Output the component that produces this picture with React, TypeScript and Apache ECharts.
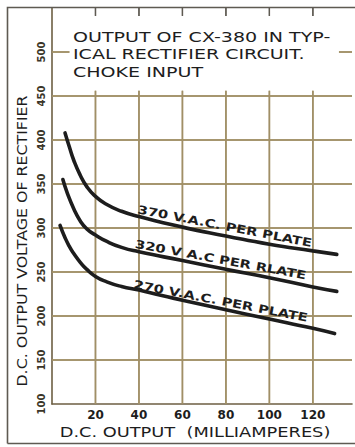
import React, { useEffect, useRef } from "react";
import * as echarts from "echarts";

// ---- data ----
const mA370 = [6, 8, 10, 13, 16, 20, 25, 32, 40, 60, 80, 100, 120, 131];
const volts370 = [408, 392, 377, 360, 347, 336, 327, 319, 313, 301, 291, 281.5, 274, 270];

const mA320 = [5, 7, 10, 13, 16, 20, 25, 32, 40, 60, 80, 100, 120, 131];
const volts320 = [355, 340, 322, 308, 299, 292, 285, 278, 273, 263, 253, 243.5, 233, 228];

const mA270 = [3.7, 6, 8, 10, 13, 16, 20, 25, 32, 40, 50, 60, 80, 100, 120, 130];
const volts270 = [303, 289, 279, 271, 261, 253, 245, 239, 233.5, 229.5, 223.5, 218, 207, 196.5, 186, 180];

const curveNames = ["370 V.A.C. PER PLATE", "320 V A.C PER RLATE", "270 V.A.C. PER PLATE"];
const labelAtMA = [79.5, 77.6, 77.6];
const labelAtV = [302, 264, 217];
const labelAngleDeg = [-11, -10.5, -11];

const xTickValues = [20, 40, 60, 80, 100, 120];
const yGridValues = [150, 200, 250, 300, 350, 400, 450];
const yTickLabels = [100, 150, 200, 250, 300, 350, 400, 450, 500];

const titleLines = ["OUTPUT OF CX-380 IN TYP-", "ICAL RECTIFIER CIRCUIT.", "CHOKE INPUT"];
const xAxisTitle = "D.C. OUTPUT  (MILLIAMPERES)";
const yAxisTitle = "D.C. OUTPUT VOLTAGE OF RECTIFIER";

const X_MIN = 0;
const X_MAX = 138;
const Y_MIN = 100;
const Y_MAX = 550;

const FONT = '"DejaVu Sans", sans-serif';
const INK = "#1d1d1d";
const GRID = "#a08f66";
const FRAME = "#5e5a52";

const pairs = (xs: number[], ys: number[]) => xs.map((x, i) => [x, ys[i]]);

export default function App() {
  const ref = useRef<HTMLDivElement>(null);

  useEffect(() => {
    document.body.style.margin = "0";
    if (!ref.current) return;
    const chart = echarts.init(ref.current, null, { renderer: "svg" });

    // grid segments in data units (drawn through the axes' scales)
    const gridSegs: { a: number[]; b: number[]; color: string; width: number }[] = [];
    yGridValues.forEach((v) => gridSegs.push({ a: [X_MIN, v], b: [X_MAX, v], color: GRID, width: 1.5 }));
    xTickValues.forEach((x) => gridSegs.push({ a: [x, Y_MIN], b: [x, 456], color: GRID, width: 1.5 }));
    gridSegs.push({ a: [0, 500], b: [8, 500], color: GRID, width: 1.5 });
    gridSegs.push({ a: [132, 500], b: [X_MAX, 500], color: GRID, width: 1.5 });
    xTickValues.forEach((x) => gridSegs.push({ a: [x, Y_MAX], b: [x, 541], color: FRAME, width: 1.3 }));

    const segSeries = gridSegs.map((s, i) => ({
      type: "line",
      name: "grid" + i,
      data: [s.a.slice(), s.b.slice()],
      symbol: "none",
      showSymbol: false,
      clip: false,
      z: 6,
      lineStyle: { color: s.color, width: s.width },
    }));

    const curveSeries = [
      pairs(mA370, volts370),
      pairs(mA320, volts320),
      pairs(mA270, volts270),
    ].map((d, i) => ({
      type: "line",
      name: curveNames[i],
      data: d,
      smooth: 0.55,
      showSymbol: false,
      symbol: "none",
      z: 8,
      lineStyle: { color: INK, width: 3.6, cap: "round" },
    }));

    chart.setOption({
      animation: false,
      backgroundColor: "#ffffff",
      grid: { left: 52, right: 0, top: 8, bottom: 43, containLabel: false },
      xAxis: {
        type: "value",
        min: X_MIN,
        max: X_MAX,
        interval: 20,
        axisLine: { show: true, lineStyle: { color: "#6d5f43", width: 1.6 } },
        axisTick: { show: false },
        splitLine: { show: false },
        axisLabel: {
          margin: 5,
          color: INK,
          fontFamily: FONT,
          fontSize: 12,
          fontWeight: "bold",
          formatter: (v: number) => (xTickValues.indexOf(v) >= 0 ? String(v) : ""),
        },
      },
      yAxis: {
        type: "value",
        min: Y_MIN,
        max: Y_MAX,
        interval: 50,
        axisLine: { show: true, lineStyle: { color: "#6d5f43", width: 1.6 } },
        axisTick: { show: false },
        splitLine: { show: false },
        axisLabel: {
          rotate: 90,
          margin: 6,
          color: "#3a3528",
          fontFamily: FONT,
          fontSize: 10,
          fontWeight: "bold",
          formatter: (v: number) => (yTickLabels.indexOf(v) >= 0 ? String(v) : ""),
        },
      },
      series: [...segSeries, ...curveSeries],
    });

    const px = (x: number, y: number): number[] => {
      const r = chart.convertToPixel({ xAxisIndex: 0, yAxisIndex: 0 }, [x, y]) as number[];
      return [Number(r[0]), Number(r[1])];
    };

    const graphics: any[] = [];
    gridSegs.forEach((s) => {
      const p = px(s.a[0], s.a[1]);
      const x1 = p[0];
      const y1 = p[1];
      const q = px(s.b[0], s.b[1]);
      const x2 = q[0];
      const y2 = q[1];
      graphics.push({
        type: "polyline",
        z: 7,
        shape: { points: [[x1, y1], [x2, y2]] },
        style: { stroke: s.color, lineWidth: s.width, fill: null },
      });
    });

    // outer frame
    graphics.push({
      type: "polyline",
      shape: { points: [[7.5, 443.5], [7.5, 7.5], [355, 7.5]] },
      style: { stroke: FRAME, lineWidth: 1.6, fill: null },
      z: 10,
    });
    graphics.push({
      type: "line",
      shape: { x1: 7.5, y1: 443.5, x2: 355, y2: 443.5 },
      style: { stroke: FRAME, lineWidth: 1.6 },
      z: 10,
    });
    // title
    graphics.push({
      type: "text",
      x: 73,
      y: 28,
      scaleX: 1.36,
      style: {
        text: titleLines.join("\n"),
        fontFamily: FONT,
        fontSize: 14,
        lineHeight: 17.5,
        fill: INK,
        textAlign: "left",
        textVerticalAlign: "top",
      },
      z: 10,
    });
    // axis titles
    graphics.push({
      type: "text",
      x: 195,
      y: 432,
      scaleX: 1.27,
      style: {
        text: xAxisTitle,
        fontFamily: FONT,
        fontSize: 14,
        fill: INK,
        textAlign: "center",
        textVerticalAlign: "middle",
      },
      z: 10,
    });
    graphics.push({
      type: "text",
      x: 22,
      y: 241,
      rotation: Math.PI / 2,
      scaleX: 1.13,
      style: {
        text: yAxisTitle,
        fontFamily: FONT,
        fontSize: 14,
        fill: INK,
        textAlign: "center",
        textVerticalAlign: "middle",
      },
      z: 10,
    });
    // curve labels
    curveNames.forEach((name, i) => {
      const p = px(labelAtMA[i], labelAtV[i]);
      graphics.push({
        type: "text",
        x: p[0],
        y: p[1],
        rotation: (labelAngleDeg[i] * Math.PI) / 180,
        scaleX: 1.28,
        style: {
          text: name,
          fontFamily: FONT,
          fontSize: 11.5,
          fontWeight: "bold",
          fill: INK,
          textAlign: "center",
          textVerticalAlign: "middle",
        },
        z: 10,
      });
    });

    chart.setOption({ graphic: graphics });

    return () => chart.dispose();
  }, []);

  return <div ref={ref} style={{ width: 355, height: 447 }} />;
}
